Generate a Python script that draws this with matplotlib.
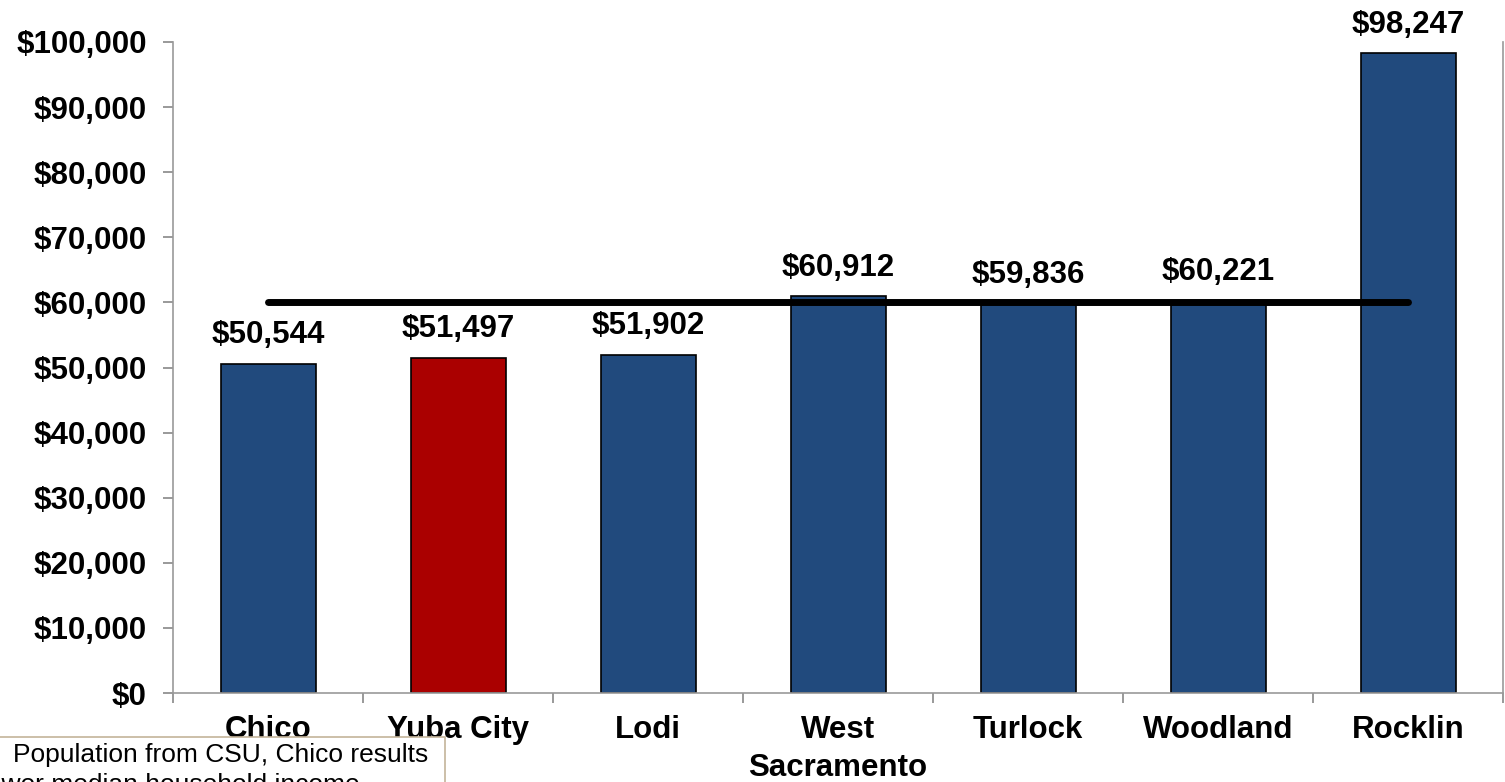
import matplotlib
matplotlib.use("Agg")
import matplotlib.pyplot as plt
from matplotlib.patches import Rectangle
from matplotlib.ticker import FuncFormatter, FixedLocator
import numpy as np

categories = ["Chico", "Yuba City", "Lodi", "West\nSacramento", "Turlock", "Woodland", "Rocklin"]
values = [50544, 51497, 51902, 60912, 59836, 60221, 98247]
bar_colors = ["#214A7D", "#AA0000", "#214A7D", "#214A7D", "#214A7D", "#214A7D", "#214A7D"]
reference_line = [60000] * 7
yticks = list(range(0, 100001, 10000))
note_line1 = "Population from CSU, Chico results"
note_line2 = "lower median household income"

plt.rcParams['font.family'] = ['Liberation Sans', 'DejaVu Sans']

fig = plt.figure(figsize=(15.05, 7.82), dpi=100)
W, H = 1505, 782
ax = fig.add_axes([173 / W, 1 - 693 / H, (1503 - 173) / W, (693 - 42) / H])

x = np.arange(len(categories))
ax.bar(x, values, width=0.5, color=bar_colors, edgecolor="black", linewidth=1.2, zorder=2)
ax.plot(x, reference_line, color="black", linewidth=5, solid_capstyle="round", zorder=3)

for xi, v in zip(x, values):
    ax.annotate(f"${v:,.0f}", (xi, v), xytext=(0, 10), textcoords="offset points",
                ha="center", va="bottom", fontsize=22.5, fontweight="bold", annotation_clip=False)

ax.set_xlim(-0.5, len(categories) - 0.5)
ax.set_ylim(0, 100000)
ax.set_yticks(yticks)
ax.yaxis.set_major_formatter(FuncFormatter(lambda v, p: f"${v:,.0f}"))
ax.tick_params(axis="y", length=7, color="#888888", width=1.2, pad=12, labelsize=22.5)
for lab in ax.get_yticklabels():
    lab.set_fontweight("bold")

ax.set_xticks(x)
ax.set_xticklabels(categories, fontsize=22.5, fontweight="bold", va="top", linespacing=1.35)
ax.tick_params(axis="x", which="major", length=0, pad=16)
ax.xaxis.set_minor_locator(FixedLocator(np.arange(-0.5, len(categories), 1.0)))
ax.tick_params(axis="x", which="minor", length=7, color="#888888", width=1.2)

ax.spines["top"].set_visible(False)
for s in ["left", "bottom", "right"]:
    ax.spines[s].set_color("#999999")
    ax.spines[s].set_linewidth(1.2)

# Note box at bottom-left
fig.patches.append(Rectangle((-5 / W, -0.05), 450 / W, (H - 737) / H + 0.05,
                             transform=fig.transFigure, facecolor="white",
                             edgecolor="#C4B49A", linewidth=1.2, zorder=5))
fig.text(13 / W, 1 - 755 / H, note_line1, ha="left", va="center", fontsize=19, zorder=6)
fig.text(360 / W, 1 - 785 / H, note_line2, ha="right", va="center", fontsize=19, zorder=6)

fig.savefig("out.png", dpi=100)
